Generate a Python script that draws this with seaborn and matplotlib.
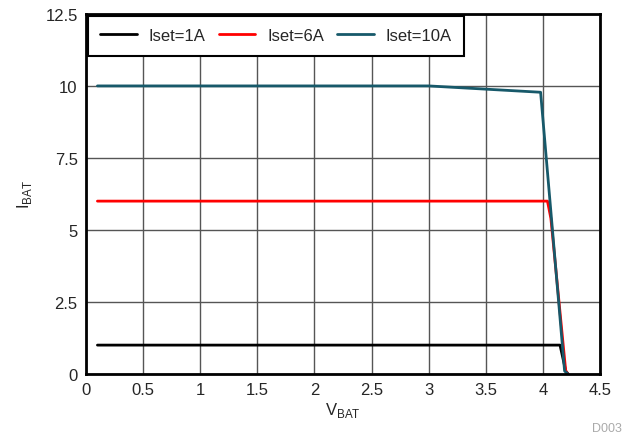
import pandas as pd
import seaborn as sns
import matplotlib.pyplot as plt

# data
v_1a = [0.1, 4.15, 4.20, 4.22]
i_1a = [1.0, 1.0, 0.1, 0.0]
v_6a = [0.1, 4.04, 4.07, 4.20, 4.22]
i_6a = [6.0, 6.0, 5.4, 0.1, 0.0]
v_10a = [0.1, 3.0, 3.98, 4.19, 4.22]
i_10a = [10.0, 10.0, 9.78, 0.1, 0.0]

labels = ["Iset=1A", "Iset=6A", "Iset=10A"]
colors = ["#000000", "#ff0000", "#17596a"]

df = pd.concat([
    pd.DataFrame({"V": v_1a, "I": i_1a, "set": labels[0]}),
    pd.DataFrame({"V": v_6a, "I": i_6a, "set": labels[1]}),
    pd.DataFrame({"V": v_10a, "I": i_10a, "set": labels[2]}),
])

sns.set_style("white")
plt.rcParams['font.family'] = ['Liberation Sans', 'DejaVu Sans']

fig = plt.figure(figsize=(6.25, 4.39), dpi=100)
ax = fig.add_axes([0.1376, 0.146, 0.8224, 0.82])

sns.lineplot(data=df, x="V", y="I", hue="set", palette=colors, sort=False,
             estimator=None, linewidth=2, ax=ax)

ax.set_xlim(0, 4.5)
ax.set_ylim(0, 12.5)
ax.set_xticks([0, 0.5, 1, 1.5, 2, 2.5, 3, 3.5, 4, 4.5])
ax.set_xticklabels(["0", "0.5", "1", "1.5", "2", "2.5", "3", "3.5", "4", "4.5"])
ax.set_yticks([0, 2.5, 5, 7.5, 10, 12.5])
ax.set_yticklabels(["0", "2.5", "5", "7.5", "10", "12.5"])
ax.tick_params(labelsize=12, length=0, pad=6)
ax.grid(True, color="#555555", linewidth=1)
ax.set_axisbelow(True)
for s in ax.spines.values():
    s.set_color("black")
    s.set_linewidth(2)

ax.set_xlabel("V$_{\\mathregular{BAT}}$", fontsize=12, labelpad=2)
ax.set_ylabel("I$_{\\mathregular{BAT}}$", fontsize=12, labelpad=8)

leg = ax.legend(loc="upper left", ncol=3, fontsize=12, frameon=True,
                fancybox=False, edgecolor="black", borderaxespad=0.1,
                borderpad=0.75, handlelength=2.2, handletextpad=0.7,
                columnspacing=0.8, framealpha=1)
leg.get_frame().set_linewidth(1.5)
leg.set_title(None)

fig.text(0.995, 0.01, "D003", ha="right", va="bottom", fontsize=9, color="#aaaaaa")

plt.savefig("out.png", dpi=100)
